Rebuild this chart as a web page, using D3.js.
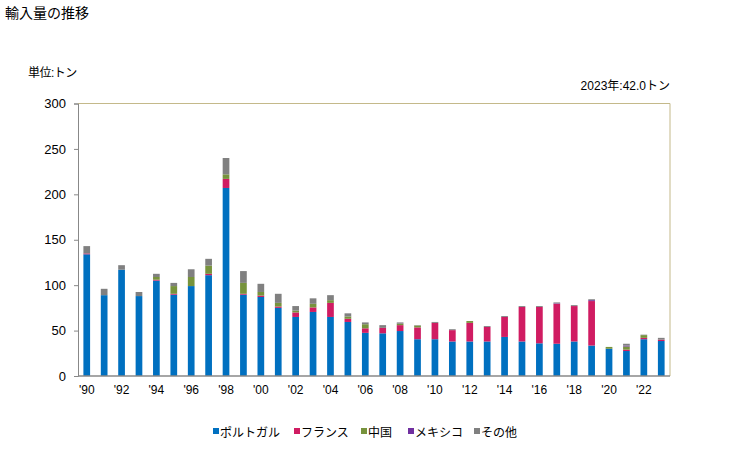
<!DOCTYPE html>
<html><head><meta charset="utf-8">
<script src="https://cdn.jsdelivr.net/npm/d3@7"></script>
<style>body{margin:0;background:#fff;} text{font-family:"Liberation Sans","Noto Sans CJK JP",sans-serif;}</style>
</head><body>
<svg id="c" width="729" height="450"></svg>
<script>
const years = d3.range(1990, 2024);
const seriesNames = ["ポルトガル","フランス","中国","メキシコ","その他"];
const colors = ["#0070c0","#d01c62","#77933c","#7030a0","#808080"];
const portugal = [134,89,117,88,105,89.5,99,111,207,89.5,87,75,65,70.5,65,59.5,47.5,47,49.5,40.5,40.5,38,38,38,43,38,36,35.5,38,33.5,30,27.5,40.5,38.5];
const france   = [1,0,0,0,1,1,0,1.5,10,1,1.5,1.5,5,5,15.5,3.5,5,6,6.5,13,18,12.5,20.5,16,22,38,40,44,39,49,0,1.5,1.5,1.5];
const china    = [0,0,0,0,3,8.5,10,9,5,12,4,4,2,4,3,2.5,4.5,0,1.5,2,0,0,2,0,0,0,0,0,0,0,2,3.5,3,0];
const mexico   = [0,0,0,0,0,0,0,0,0,0,0,0,0,0,0,0,0,0,0,0,0,0,0,0,0,0,0,0.5,0,1,0,1,0,0];
const other    = [8,7,5,4.5,3.5,3.5,8.5,7.5,18,13,9,10,5,6,5.5,3.5,2,3,1.5,0.5,1,1,0,1,1,1,1,1,1,1,0,2,0.5,2];
const yTicks = [0,50,100,150,200,250,300];
const unitLabel = "単位:トン";
const title = "輸入量の推移";
const note = "2023年:42.0トン";

const svg = d3.select("#c");
const m = {l:78, r:670, t:103.5, b:376};
const x = d3.scaleBand().domain(years).range([m.l, m.r]).paddingInner(0.615).paddingOuter(0.31);
const y = d3.scaleLinear().domain([0,300]).range([m.b, m.t]);

const table = years.map((yr,i)=>({year:yr, s0:portugal[i], s1:france[i], s2:china[i], s3:mexico[i], s4:other[i]}));
const stack = d3.stack().keys(["s0","s1","s2","s3","s4"])(table);

svg.append("line").attr("x1",m.l).attr("x2",m.r).attr("y1",m.t).attr("y2",m.t).attr("stroke","#c4b98a").attr("stroke-width",1);
svg.append("line").attr("x1",m.r).attr("x2",m.r).attr("y1",m.t).attr("y2",m.b).attr("stroke","#c4b98a").attr("stroke-width",1);

stack.forEach((layer,k)=>{
  svg.append("g").selectAll("rect").data(layer).join("rect")
    .attr("x",d=>x(d.data.year)).attr("width",x.bandwidth())
    .attr("y",d=>y(d[1])).attr("height",d=>Math.max(0,y(d[0])-y(d[1])))
    .attr("fill",colors[k]);
});

const ya = svg.append("g").attr("transform",`translate(${m.l},0)`)
  .call(d3.axisLeft(y).tickValues(yTicks).tickSize(4).tickPadding(8));
ya.select(".domain").attr("stroke","#888");
ya.selectAll(".tick line").attr("stroke","#888");
ya.selectAll("text").attr("font-size",13).attr("fill","#000");

const xa = svg.append("g").attr("transform",`translate(0,${m.b})`)
  .call(d3.axisBottom(x).tickSize(0).tickPadding(9).tickFormat(d=> d%2===0 ? "'"+String(d).slice(2) : ""));
xa.select(".domain").attr("stroke","#888").attr("stroke-width",1.5).attr("d",`M${m.l},0H${m.r}`);
xa.selectAll("text").attr("font-size",12).attr("fill","#000");

svg.append("text").attr("x",5).attr("y",18).attr("font-size",14).text(title);
svg.append("text").attr("x",28).attr("y",77).attr("font-size",12).attr("letter-spacing",-0.5).text(unitLabel);
svg.append("text").attr("x",m.r).attr("y",90).attr("text-anchor","end").attr("font-size",12).text(note);

const legX = [213,294,361,408,474];
const lg = svg.append("g");
seriesNames.forEach((n,i)=>{
  lg.append("rect").attr("x",legX[i]).attr("y",428).attr("width",6).attr("height",6).attr("fill",colors[i]);
  lg.append("text").attr("x",legX[i]+7).attr("y",437).attr("font-size",12).text(n);
});
</script>
</body></html>
